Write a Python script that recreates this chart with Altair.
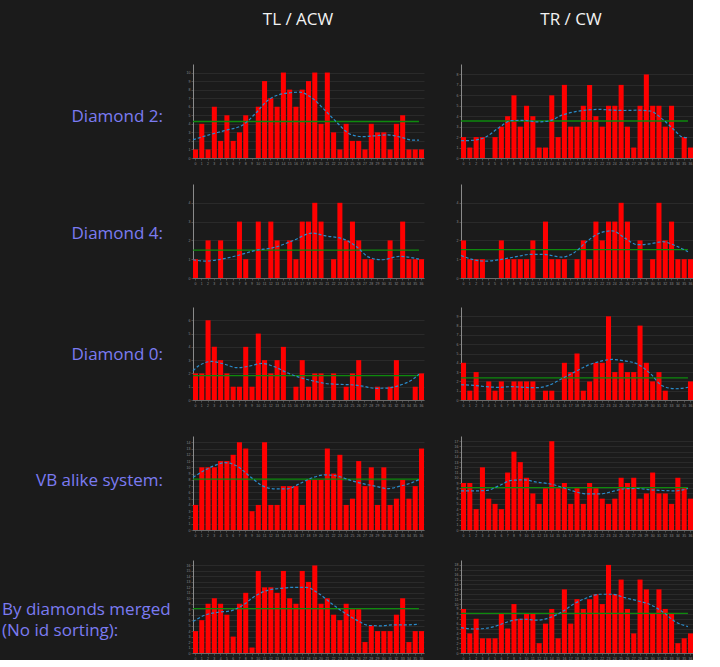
import altair as alt
import pandas as pd

NUMS = list(range(37))

# ---- bar values (count per number 0..36) ----
d2_left = [1, 4, 1, 6, 2, 5, 2, 3, 5, 0, 6, 9, 7, 6, 10, 8, 6, 8, 9, 10, 4, 10, 3, 1, 4, 2, 2, 1, 4, 3, 3, 1, 4, 5, 1, 1, 1]
d2_right = [2, 1, 2, 2, 0, 2, 3, 4, 6, 3, 5, 4, 1, 1, 6, 2, 7, 3, 3, 5, 7, 4, 3, 5, 5, 7, 3, 1, 5, 8, 5, 5, 3, 5, 0, 2, 1]
d4_left = [1, 0, 2, 0, 2, 0, 0, 3, 1, 0, 3, 0, 3, 2, 0, 2, 1, 3, 3, 4, 3, 0, 1, 4, 2, 3, 2, 1, 1, 0, 0, 2, 0, 3, 1, 1, 1]
d4_right = [2, 1, 1, 1, 0, 0, 2, 1, 1, 1, 1, 2, 0, 3, 1, 1, 1, 0, 1, 2, 1, 3, 2, 3, 3, 4, 3, 0, 2, 0, 1, 4, 2, 3, 1, 1, 1]
d0_left = [2, 2, 6, 4, 3, 2, 1, 1, 4, 1, 5, 3, 2, 3, 4, 0, 1, 3, 1, 2, 2, 0, 2, 0, 1, 2, 3, 0, 0, 1, 0, 1, 3, 0, 0, 1, 2]
d0_right = [4, 1, 3, 0, 2, 1, 2, 0, 2, 2, 2, 2, 0, 1, 1, 0, 4, 3, 5, 1, 2, 4, 4, 9, 3, 4, 3, 3, 8, 4, 2, 3, 1, 0, 0, 0, 2]
vb_left = [4, 10, 10, 10, 11, 11, 12, 14, 13, 3, 4, 14, 4, 4, 7, 7, 7, 4, 8, 8, 8, 13, 9, 12, 4, 5, 11, 7, 10, 4, 10, 4, 5, 8, 5, 7, 13]
vb_right = [9, 9, 4, 12, 6, 5, 4, 11, 15, 13, 10, 7, 5, 8, 17, 8, 9, 5, 8, 5, 9, 8, 6, 5, 6, 10, 9, 10, 6, 7, 11, 7, 7, 5, 10, 8, 6]
mg_left = [4, 6, 9, 10, 9, 7, 3, 9, 11, 1, 15, 12, 12, 11, 15, 10, 9, 15, 13, 16, 9, 10, 7, 6, 9, 8, 8, 2, 5, 4, 4, 4, 7, 10, 2, 4, 4]
mg_right = [9, 4, 7, 3, 3, 3, 8, 5, 10, 7, 8, 8, 2, 6, 9, 3, 13, 6, 11, 9, 11, 12, 10, 18, 12, 15, 9, 4, 15, 13, 8, 13, 9, 8, 2, 3, 4]

# ---- smoothed trend (blue dashed), read at selected numbers ----
d2_left_cx = [0, 3, 5, 8, 10, 12, 15, 17, 19, 21, 23, 25, 27, 29, 31, 33, 35, 36]
d2_left_cy = [2.14, 2.8, 3.2, 3.9, 5.25, 6.8, 7.6, 7.7, 7.0, 5.6, 4.1, 2.8, 2.5, 2.6, 2.7, 2.45, 2.1, 2.1]
d2_right_cx = [0, 2, 4, 6, 8, 10, 12, 14, 16, 18, 20, 22, 24, 26, 28, 30, 32, 34, 35, 36]
d2_right_cy = [1.65, 1.7, 2.03, 2.9, 3.58, 3.6, 3.45, 3.55, 4.1, 4.42, 4.6, 4.65, 4.58, 4.55, 4.58, 4.5, 3.7, 2.58, 2.03, 1.94]
d4_left_cx = [0, 2, 4, 7, 10, 13, 16, 19, 21, 24, 26, 28, 30, 33, 36]
d4_left_cy = [0.97, 0.9, 0.97, 1.19, 1.47, 1.63, 2.0, 2.39, 2.25, 2.07, 1.68, 1.11, 0.97, 1.15, 1.0]
d4_right_cx = [0, 2, 4, 6, 9, 11, 13, 16, 18, 20, 22, 24, 26, 28, 30, 32, 34, 36]
d4_right_cy = [1.2, 0.97, 0.9, 0.97, 1.15, 1.26, 1.26, 1.11, 1.36, 1.95, 2.39, 2.51, 2.12, 1.77, 1.82, 1.93, 1.72, 1.4]
d0_left_cx = [0, 1, 3, 5, 7, 9, 11, 13, 15, 17, 19, 21, 23, 25, 27, 29, 31, 33, 35, 36]
d0_left_cy = [2.2, 2.6, 2.9, 2.7, 2.43, 2.55, 2.75, 2.5, 2.05, 1.7, 1.45, 1.25, 1.18, 1.15, 1.05, 0.88, 0.9, 1.12, 1.55, 1.95]
d0_right_cx = [0, 2, 4, 6, 8, 10, 12, 14, 16, 18, 20, 22, 24, 26, 28, 30, 32, 34, 36]
d0_right_cy = [1.64, 1.57, 1.43, 1.36, 1.43, 1.36, 1.32, 1.6, 2.29, 3.0, 3.7, 4.14, 4.36, 4.2, 3.86, 2.86, 1.5, 1.21, 1.36]
vb_left_cx = [0, 2, 4, 5, 7, 9, 11, 13, 15, 17, 19, 21, 23, 25, 27, 29, 31, 33, 35, 36]
vb_left_cy = [8.4, 9.6, 10.5, 10.75, 10.2, 8.6, 7.1, 6.56, 6.56, 7.4, 8.33, 8.8, 8.6, 7.96, 7.4, 7.0, 6.6, 7.0, 7.6, 8.06]
vb_right_cx = [0, 2, 4, 6, 8, 10, 12, 14, 16, 18, 20, 22, 24, 26, 28, 30, 32, 34, 36]
vb_right_cy = [7.5, 7.5, 7.56, 8.46, 9.5, 9.6, 9.17, 8.85, 8.2, 7.37, 6.9, 6.9, 7.37, 7.9, 7.95, 7.7, 7.56, 7.5, 7.95]
mg_left_cx = [0, 2, 4, 6, 8, 10, 12, 14, 16, 18, 20, 22, 24, 26, 28, 30, 32, 34, 36]
mg_left_cy = [5.76, 6.97, 7.45, 7.7, 8.8, 10.5, 11.5, 11.8, 12.0, 12.0, 10.9, 9.1, 7.45, 6.06, 5.03, 4.97, 5.15, 5.15, 5.27]
mg_right_cx = [0, 2, 4, 6, 8, 10, 12, 14, 16, 18, 20, 22, 24, 26, 28, 30, 32, 34, 36]
mg_right_cy = [5.2, 4.9, 5.06, 5.7, 6.6, 6.9, 6.7, 7.2, 8.4, 10.1, 11.3, 12.0, 12.0, 11.3, 10.65, 9.9, 8.4, 6.4, 5.4]

COL_TITLES = ["TL / ACW", "TR / CW"]
ROW_LABELS = ["Diamond 2:", "Diamond 4:", "Diamond 0:", "VB alike system:", "By diamonds merged\n(No id sorting):"]

FONT = "Open Sans"
BG = "#1b1b1b"
LABEL_COLOR = "#7b7bf2"

LABEL_W = 156
LEFT_W = 231
RIGHT_W = 232
HHEAD = 58


def panel(vals, cx, cy, w, h):
    ymax = max(vals) + 1
    xs = alt.Scale(type="band", domain=NUMS, paddingInner=0.2, paddingOuter=0)
    ys = alt.Scale(domain=[0, ymax], nice=False, zero=True)
    xaxis = alt.Axis(title=None, labelFontSize=3.5, labelColor="#8a8a8a", labelAngle=0,
                     tickSize=2, tickColor="#4a4a4a", domainColor="#6a6a6a", gridColor="#2a2a2a",
                     labelPadding=1, labelOverlap=False, labelFlush=False)
    yaxis = alt.Axis(title=None, values=list(range(ymax)), labelFontSize=3.5, labelColor="#8a8a8a",
                     tickSize=2, tickColor="#4a4a4a", domainColor="#8a8a8a", gridColor="#2a2a2a",
                     labelPadding=1, labelOverlap=False, labelFlush=False)
    df = pd.DataFrame({"n": NUMS, "v": vals})
    bars = alt.Chart(df).mark_bar(color="#ff0000").encode(
        x=alt.X("n:O", scale=xs, axis=xaxis),
        y=alt.Y("v:Q", scale=ys, axis=yaxis),
    )
    mean_line = alt.Chart(df).transform_joinaggregate(m="mean(v)").mark_line(
        color="#0e8a0e", strokeWidth=1.3
    ).encode(
        x=alt.X("n:O", bandPosition=0, scale=xs, axis=xaxis),
        y=alt.Y("m:Q", scale=ys, axis=yaxis),
    )
    cdf = pd.DataFrame({"n": cx, "v": cy})
    curve = alt.Chart(cdf).mark_line(
        color="#2a8ccc", strokeWidth=1.2, strokeDash=[3, 2], interpolate="monotone"
    ).encode(
        x=alt.X("n:O", bandPosition=0, scale=xs, axis=xaxis),
        y=alt.Y("v:Q", scale=ys, axis=yaxis),
    )
    return alt.layer(bars, mean_line, curve).properties(width=w, height=h)


def label_chart(text, h, ypos, multiline=False):
    df = pd.DataFrame({"t": [text]})
    if multiline:
        mk = alt.Chart(df).mark_text(align="left", baseline="middle", fontSize=17, font=FONT,
                                     color=LABEL_COLOR, lineBreak="\n", lineHeight=21)
        enc = mk.encode(x=alt.value(2), y=alt.value(ypos), text="t:N")
    else:
        mk = alt.Chart(df).mark_text(align="right", baseline="middle", fontSize=17, font=FONT,
                                     color=LABEL_COLOR)
        enc = mk.encode(x=alt.value(163), y=alt.value(ypos), text="t:N")
    return enc.properties(width=LABEL_W, height=h)


def title_chart(text, w, xpos):
    df = pd.DataFrame({"t": [text]})
    return alt.Chart(df).mark_text(align="center", baseline="middle", fontSize=17, font=FONT,
                                   color="#f2f2f2").encode(
        x=alt.value(xpos), y=alt.value(14), text="t:N"
    ).properties(width=w, height=HHEAD)


def blank(w, h):
    return alt.Chart(pd.DataFrame({"t": [""]})).mark_text().encode(
        x=alt.value(0), y=alt.value(0), text="t:N"
    ).properties(width=w, height=h)


# each label cell is as tall as the panel plus the gap below it (row spacing is 0)
cells = [
    blank(LABEL_W, HHEAD),
    title_chart(COL_TITLES[0], LEFT_W, 105),
    title_chart(COL_TITLES[1], RIGHT_W, 110),

    label_chart(ROW_LABELS[0], 120, 53),
    panel(d2_left, d2_left_cx, d2_left_cy, LEFT_W, 94),
    panel(d2_right, d2_right_cx, d2_right_cy, RIGHT_W, 94),

    label_chart(ROW_LABELS[1], 123, 50),
    panel(d4_left, d4_left_cx, d4_left_cy, LEFT_W, 94),
    panel(d4_right, d4_right_cx, d4_right_cy, RIGHT_W, 94),

    label_chart(ROW_LABELS[2], 129, 48),
    panel(d0_left, d0_left_cx, d0_left_cy, LEFT_W, 93),
    panel(d0_right, d0_right_cx, d0_right_cy, RIGHT_W, 93),

    label_chart(ROW_LABELS[3], 124, 45),
    panel(vb_left, vb_left_cx, vb_left_cy, LEFT_W, 94),
    panel(vb_right, vb_right_cx, vb_right_cy, RIGHT_W, 94),

    label_chart(ROW_LABELS[4], 93, 49.5, True),
    panel(mg_left, mg_left_cx, mg_left_cy, LEFT_W, 93),
    panel(mg_right, mg_right_cx, mg_right_cy, RIGHT_W, 93),
]

chart = alt.concat(*cells, columns=3, spacing={"row": 0, "column": 37}, bounds="flush",
                   padding=0).configure(background=BG).configure_view(strokeWidth=0)

chart.save("out.html", embed_options={"renderer": "svg", "actions": False})
